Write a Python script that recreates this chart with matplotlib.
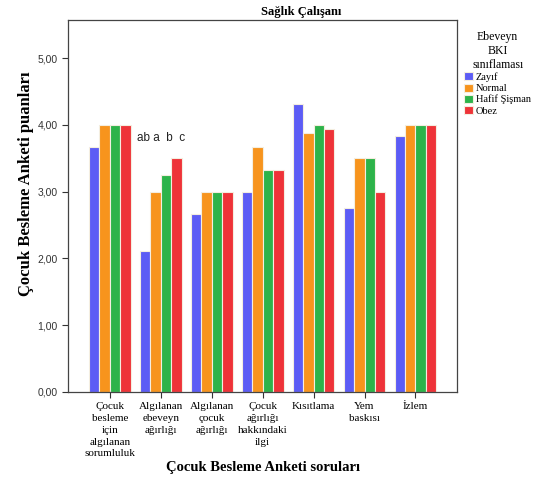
import matplotlib
matplotlib.use("Agg")
import matplotlib.pyplot as plt
import numpy as np

categories = [
    "Çocuk\nbesleme\niçin\nalgılanan\nsorumluluk",
    "Algılanan\nebeveyn\nağırlığı",
    "Algılanan\nçocuk\nağırlığı",
    "Çocuk\nağırlığı\nhakkındaki\nilgi",
    "Kısıtlama",
    "Yem\nbaskısı",
    "İzlem",
]
series_names = ["Zayıf", "Normal", "Hafif Şişman", "Obez"]
zayif = [3.67, 2.11, 2.67, 3.00, 4.31, 2.75, 3.83]
normal = [4.00, 3.00, 3.00, 3.67, 3.88, 3.50, 4.00]
hafif = [4.00, 3.25, 3.00, 3.33, 4.00, 3.50, 4.00]
obez = [4.00, 3.50, 3.00, 3.33, 3.94, 3.00, 4.00]
yticks = [0, 1, 2, 3, 4, 5]
ytick_labels = ["0,00", "1,00", "2,00", "3,00", "4,00", "5,00"]

COLORS = ["#5c5cf5", "#f7941d", "#2db34a", "#ee3338"]
SERIF = "Liberation Serif"
SANS = "Liberation Sans"

fig = plt.figure(figsize=(5.36, 4.79), dpi=100)
ax = fig.add_axes([0.127, 0.182, 0.726, 0.776])

x = np.arange(len(categories))
width = 0.205
for i, (vals, col) in enumerate(zip([zayif, normal, hafif, obez], COLORS)):
    ax.bar(x + (i - 1.5) * width, vals, width=width, color=col,
           edgecolor="#f4eee0", linewidth=0.8, label=series_names[i])

ax.set_xlim(-0.82, 6.82)
ax.set_ylim(0, 5.57)
ax.set_yticks(yticks)
ax.set_yticklabels(ytick_labels, family=SANS, fontsize=7.5, color="#333333")
ax.set_xticks(x)
ax.set_xticklabels(categories, family=SERIF, fontsize=8, linespacing=1.4)
ax.tick_params(axis="both", length=4, width=0.8, color="#333333")
for s in ax.spines.values():
    s.set_color("#444444")
    s.set_linewidth(0.9)

ax.text(1, 3.72, "ab a  b  c", ha="center", va="bottom", family=SANS,
        fontsize=8.5, color="#222222")

ax.set_ylabel("Çocuk Besleme Anketi puanları", family=SERIF, fontsize=12,
              fontweight="bold")
ax.yaxis.set_label_coords(-0.088, 0.56)
ax.set_xlabel("Çocuk Besleme Anketi soruları", family=SERIF, fontsize=10.5,
              fontweight="bold")
ax.xaxis.set_label_coords(0.5, -0.185)
fig.text(0.562, 0.975, "Sağlık Çalışanı", family=SERIF, fontsize=9,
         fontweight="bold", ha="center", va="center")

leg = ax.legend(loc="upper left", bbox_to_anchor=(1.0, 0.99), frameon=False,
                title="Ebeveyn\nBKI\nsınıflaması",
                prop={"family": SERIF, "size": 7.5},
                handlelength=0.8, handleheight=0.8, handletextpad=0.3,
                labelspacing=0.15, borderaxespad=0.3)
leg.get_title().set_family(SERIF)
leg.get_title().set_fontsize(8.5)
leg.get_title().set_multialignment("center")

fig.savefig("out.png", dpi=100, facecolor="white")
